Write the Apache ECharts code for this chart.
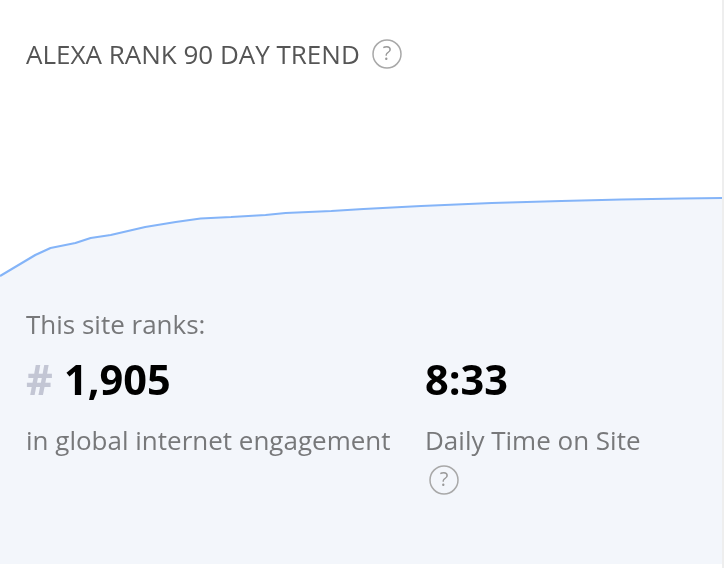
<!DOCTYPE html>
<html>
<head>
<meta charset="utf-8">
<style>
html,body{margin:0;padding:0;background:#fff;}
#chart{width:724px;height:568px;}
</style>
<script src="https://cdn.jsdelivr.net/npm/echarts@6/dist/echarts.min.js"></script>
</head>
<body>
<div id="chart"></div>
<script>
// day of the 90 day window and trend level
var days = [0, 4.4, 6.3, 9.4, 11.3, 13.8, 18.1, 21.9, 25, 28.8, 33.1, 35.6, 41.3, 45.3, 52.5, 61.3, 70, 77.5, 85, 90];
var trend = [292, 313, 320, 325, 330, 333, 341, 346, 349.5, 351, 353, 355, 357, 359, 362, 365, 367, 368.5, 369.5, 370];

var titleText = 'ALEXA RANK 90 DAY TREND';
var rankLabel = 'This site ranks:';
var rankValue = '1,905';
var rankCaption = 'in global internet engagement';
var timeValue = '8:33';
var timeCaption = 'Daily Time on Site';

var fontName = '"Open Sans", sans-serif';

function label(x, y, text, size, color, weight){
	return {
		type: 'text',
		z: 10,
		x: x,
		y: y,
		style: {
			text: text,
			fontFamily: fontName,
			fontSize: size,
			fontWeight: weight || 'normal',
			fill: color,
			textVerticalAlign: 'middle'
		}
	};
}

function helpIcon(cx, cy){
	return {
		type: 'group',
		children: [
			{type: 'circle', z: 10, shape: {cx: cx, cy: cy, r: 14}, style: {fill: 'none', stroke: '#a8a8a8', lineWidth: 1.5}},
			{type: 'text', z: 10, x: cx, y: cy, style: {text: '?', fontFamily: fontName, fontSize: 20, fill: '#999999', textAlign: 'center', textVerticalAlign: 'middle'}}
		]
	};
}

var myChart = echarts.init(document.getElementById('chart'), null, {renderer: 'canvas'});
myChart.setOption({
	animation: false,
	grid: {left: 0, right: 2, top: 0, bottom: 4},
	xAxis: {type: 'value', min: 0, max: 90, show: false},
	yAxis: {type: 'value', min: 4, max: 568, show: false},
	series: [{
		type: 'line',
		data: days.map(function(d, i){ return [d, trend[i]]; }),
		showSymbol: false,
		lineStyle: {color: '#84b4f8', width: 2.2},
		areaStyle: {color: '#f3f6fb', opacity: 1}
	}],
	graphic: [
		{type: 'rect', z: 10, shape: {x: 722, y: 0, width: 2, height: 568}, style: {fill: '#eeeeee'}},
		label(26, 56.5, titleText, 26, '#555555'),
		helpIcon(387, 54),
		label(26, 327, rankLabel, 26, '#77787a'),
		label(26, 383.5, '#', 41.5, '#c3c6d4', 'bold'),
		label(64, 383.5, rankValue, 41.5, '#000000', 'bold'),
		label(26, 443, rankCaption, 26, '#77787a'),
		label(425, 383.5, timeValue, 41.5, '#000000', 'bold'),
		label(425, 443, timeCaption, 26, '#77787a'),
		helpIcon(444, 480)
	]
});
</script>
</body>
</html>
